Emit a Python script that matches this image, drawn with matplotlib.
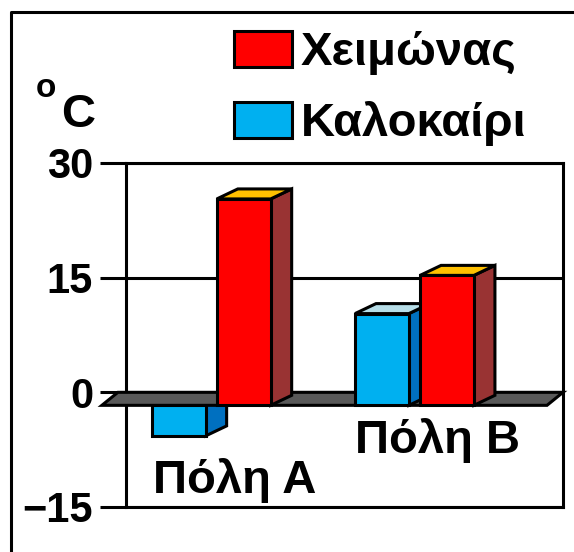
import matplotlib
matplotlib.use('Agg')
import matplotlib.pyplot as plt
import numpy as np
from matplotlib.patches import Polygon, Patch
from matplotlib.lines import Line2D
from matplotlib.transforms import IdentityTransform

# data
cities = ['Πόλη A', 'Πόλη B']
seasons = ['Χειμώνας', 'Καλοκαίρι']
winter = [27, 17]
summer = [-4, 12]
yticks = [-15, 0, 15, 30]
ytick_labels = ['\u221215', '0', '15', '30']

# colours (front, side, top)
red = ('#ff0000', '#993333', '#ffc000')
blue = ('#00b0f0', '#0070c0', '#b7dee8')
floor_col = '#595959'

plt.rcParams['font.family'] = ['Liberation Sans', 'DejaVu Sans']
plt.rcParams['font.weight'] = 'bold'

W, H = 574, 552
LW = 2.2
fig = plt.figure(figsize=(W / 100, H / 100), dpi=100)
ax = fig.add_axes([126 / W, 1 - 507 / H, 437 / W, 344 / H])
ax.set_xlim(-0.498, 1.652)
ax.set_ylim(-15, 30)

# back wall, grid and ticks
ax.set_yticks(yticks, ytick_labels)
ax.set_xticks([])
ax.grid(axis='y', color='k', lw=LW)
ax.set_axisbelow(True)
for s in ax.spines.values():
    s.set_linewidth(LW)
ax.tick_params(axis='y', length=18.7, width=LW, pad=5, labelsize=30)

# outer frame
fig.add_artist(Line2D([11 / W, 11 / W, 1.0], [0, 1 - 12 / H, 1 - 12 / H],
                      transform=fig.transFigure, color='k', lw=LW))

# 3d look: front plane offset and bar depth in pixels
F = np.array([-16.0, -13.0])
D = np.array([21.0, 10.0])
bw = 0.265
offs = [-0.16, 0.16]


def px(x, y):
    return ax.transData.transform((x, y))


def poly(pts, fc, z):
    ax.add_patch(Polygon(pts, closed=True, fc=fc, ec='k', lw=LW, joinstyle='miter',
                         transform=IdentityTransform(), clip_on=False, zorder=z))


def bar3d(xc, v, cols, z):
    xl, xr = xc - bw / 2, xc + bw / 2
    fl0, fr0 = px(xl, 0) + F, px(xr, 0) + F
    flv, frv = px(xl, v) + F, px(xr, v) + F
    poly([fr0, fr0 + D, frv + D, frv], cols[1], z)
    poly([fl0, fr0, frv, flv], cols[0], z)
    if v > 0:
        poly([flv, frv, frv + D, flv + D], cols[2], z)


# floor at 0
x0, x1 = ax.get_xlim()
b0, b1 = px(x0 - 0.04, 0), px(x1, 0)
poly([b0, b1, b1 + F, b0 + F], floor_col, 3)

z = 4
for i in range(len(cities)):
    for off, vals, cols in zip(offs, [summer, winter], [blue, red]):
        v = vals[i]
        bar3d(i + off, v, cols, 2 if v < 0 else z)
        z += 0.1

# category labels (staggered)
label_y = [0.041, 0.157]
for i, name in enumerate(cities):
    ax.text(i + 0.035, label_y[i], name, transform=ax.get_xaxis_transform(),
            ha='center', va='baseline', fontsize=34, zorder=10)

# unit
fig.text(36 / W, 1 - 97 / H, 'o', fontsize=24, va='baseline')
fig.text(61 / W, 1 - 127 / H, 'C', fontsize=34, va='baseline')

# legend
handles = [Patch(fc=red[0], ec='k', lw=LW, label=seasons[0]),
           Patch(fc=blue[0], ec='k', lw=LW, label=seasons[1])]
fig.legend(handles=handles, loc='upper left', bbox_to_anchor=(234 / W, 1 - 31 / H),
           frameon=False, fontsize=34, handlelength=1.23, handleheight=0.8,
           handletextpad=0.19, labelspacing=0.55, borderpad=0, borderaxespad=0)

fig.savefig('out.png', dpi=100)
